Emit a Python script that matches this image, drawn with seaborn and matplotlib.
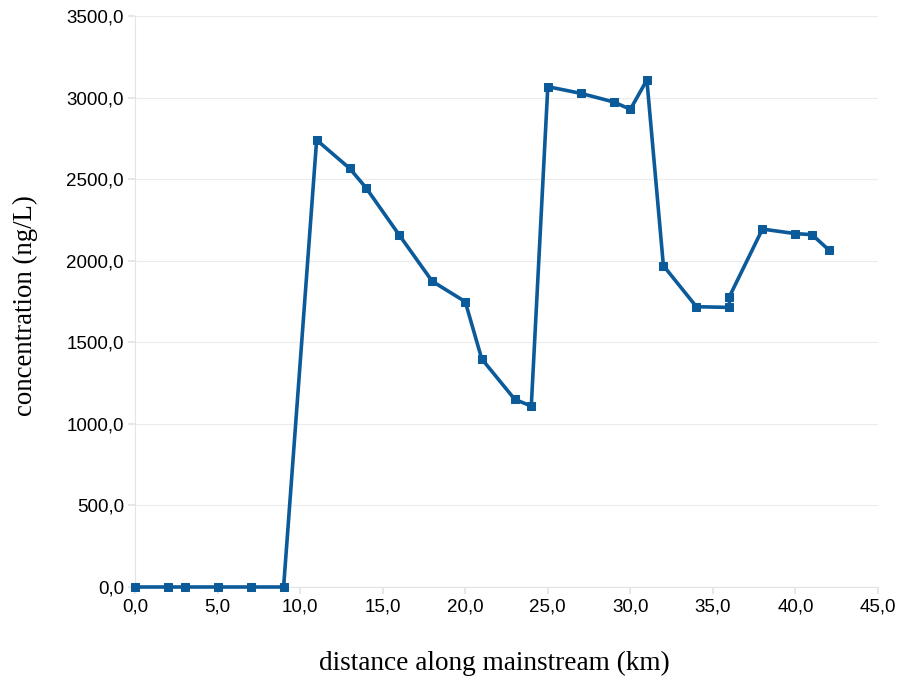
import matplotlib
matplotlib.use("Agg")
import matplotlib.pyplot as plt
import seaborn as sns
import pandas as pd
from matplotlib.ticker import FuncFormatter, MultipleLocator

distance_km = [0, 2, 3, 5, 7, 9, 11, 13, 14, 16, 18, 20, 21, 23, 24, 25, 27, 29, 30, 31,
               32, 34, 36, 36, 38, 40, 41, 42]
concentration = [0, 0, 0, 0, 0, 0, 2740, 2566, 2446, 2158, 1874, 1749, 1398, 1150, 1109,
                 3067, 3026, 2973, 2928, 3108, 1970, 1718, 1714, 1780, 2194, 2166, 2160, 2068]

df = pd.DataFrame({"distance": distance_km, "conc": concentration})

sns.set_theme(style="white")
fig = plt.figure(figsize=(9, 6.82), dpi=100)
ax = fig.add_axes([0.15, 0.1393, 0.8256, 0.8372])

color = "#0B5A9A"
sns.lineplot(data=df, x="distance", y="conc", sort=False, estimator=None, ax=ax,
             color=color, linewidth=2.6, marker="s", markersize=5.5,
             markeredgecolor=color, markerfacecolor=color, clip_on=False, zorder=4)

ax.set_xlim(0, 45)
ax.set_ylim(0, 3500)
ax.xaxis.set_major_locator(MultipleLocator(5))
ax.yaxis.set_major_locator(MultipleLocator(500))
fmt = FuncFormatter(lambda v, p: f"{v:.1f}".replace(".", ","))
ax.xaxis.set_major_formatter(fmt)
ax.yaxis.set_major_formatter(fmt)

ax.grid(axis="y", color="#ececec", linewidth=0.8)
ax.set_axisbelow(True)
for s in ["top", "right"]:
    ax.spines[s].set_visible(False)
for s in ["left", "bottom"]:
    ax.spines[s].set_color("#e4e4e4")
    ax.spines[s].set_linewidth(0.8)

ax.tick_params(axis="both", which="major", length=5, color="#e4e4e4", direction="out",
               labelsize=13.5, labelcolor="black", pad=3)
ax.tick_params(axis="x", bottom=True)
ax.tick_params(axis="y", left=True)
for lab in ax.get_xticklabels() + ax.get_yticklabels():
    lab.set_family(["Liberation Sans", "DejaVu Sans"])

ax.set_xlabel("distance along mainstream (km)", family=["Liberation Serif", "DejaVu Serif"],
              fontsize=19.6, color="black")
ax.set_ylabel("concentration (ng/L)", family=["Liberation Serif", "DejaVu Serif"],
              fontsize=19.3, color="black")
ax.xaxis.set_label_coords(0.483, -0.134)
ax.yaxis.set_label_coords(-0.148, 0.492)
ax.xaxis.label.set_va("center")
ax.yaxis.label.set_va("center")

fig.savefig("out.png", dpi=100, facecolor="white")
